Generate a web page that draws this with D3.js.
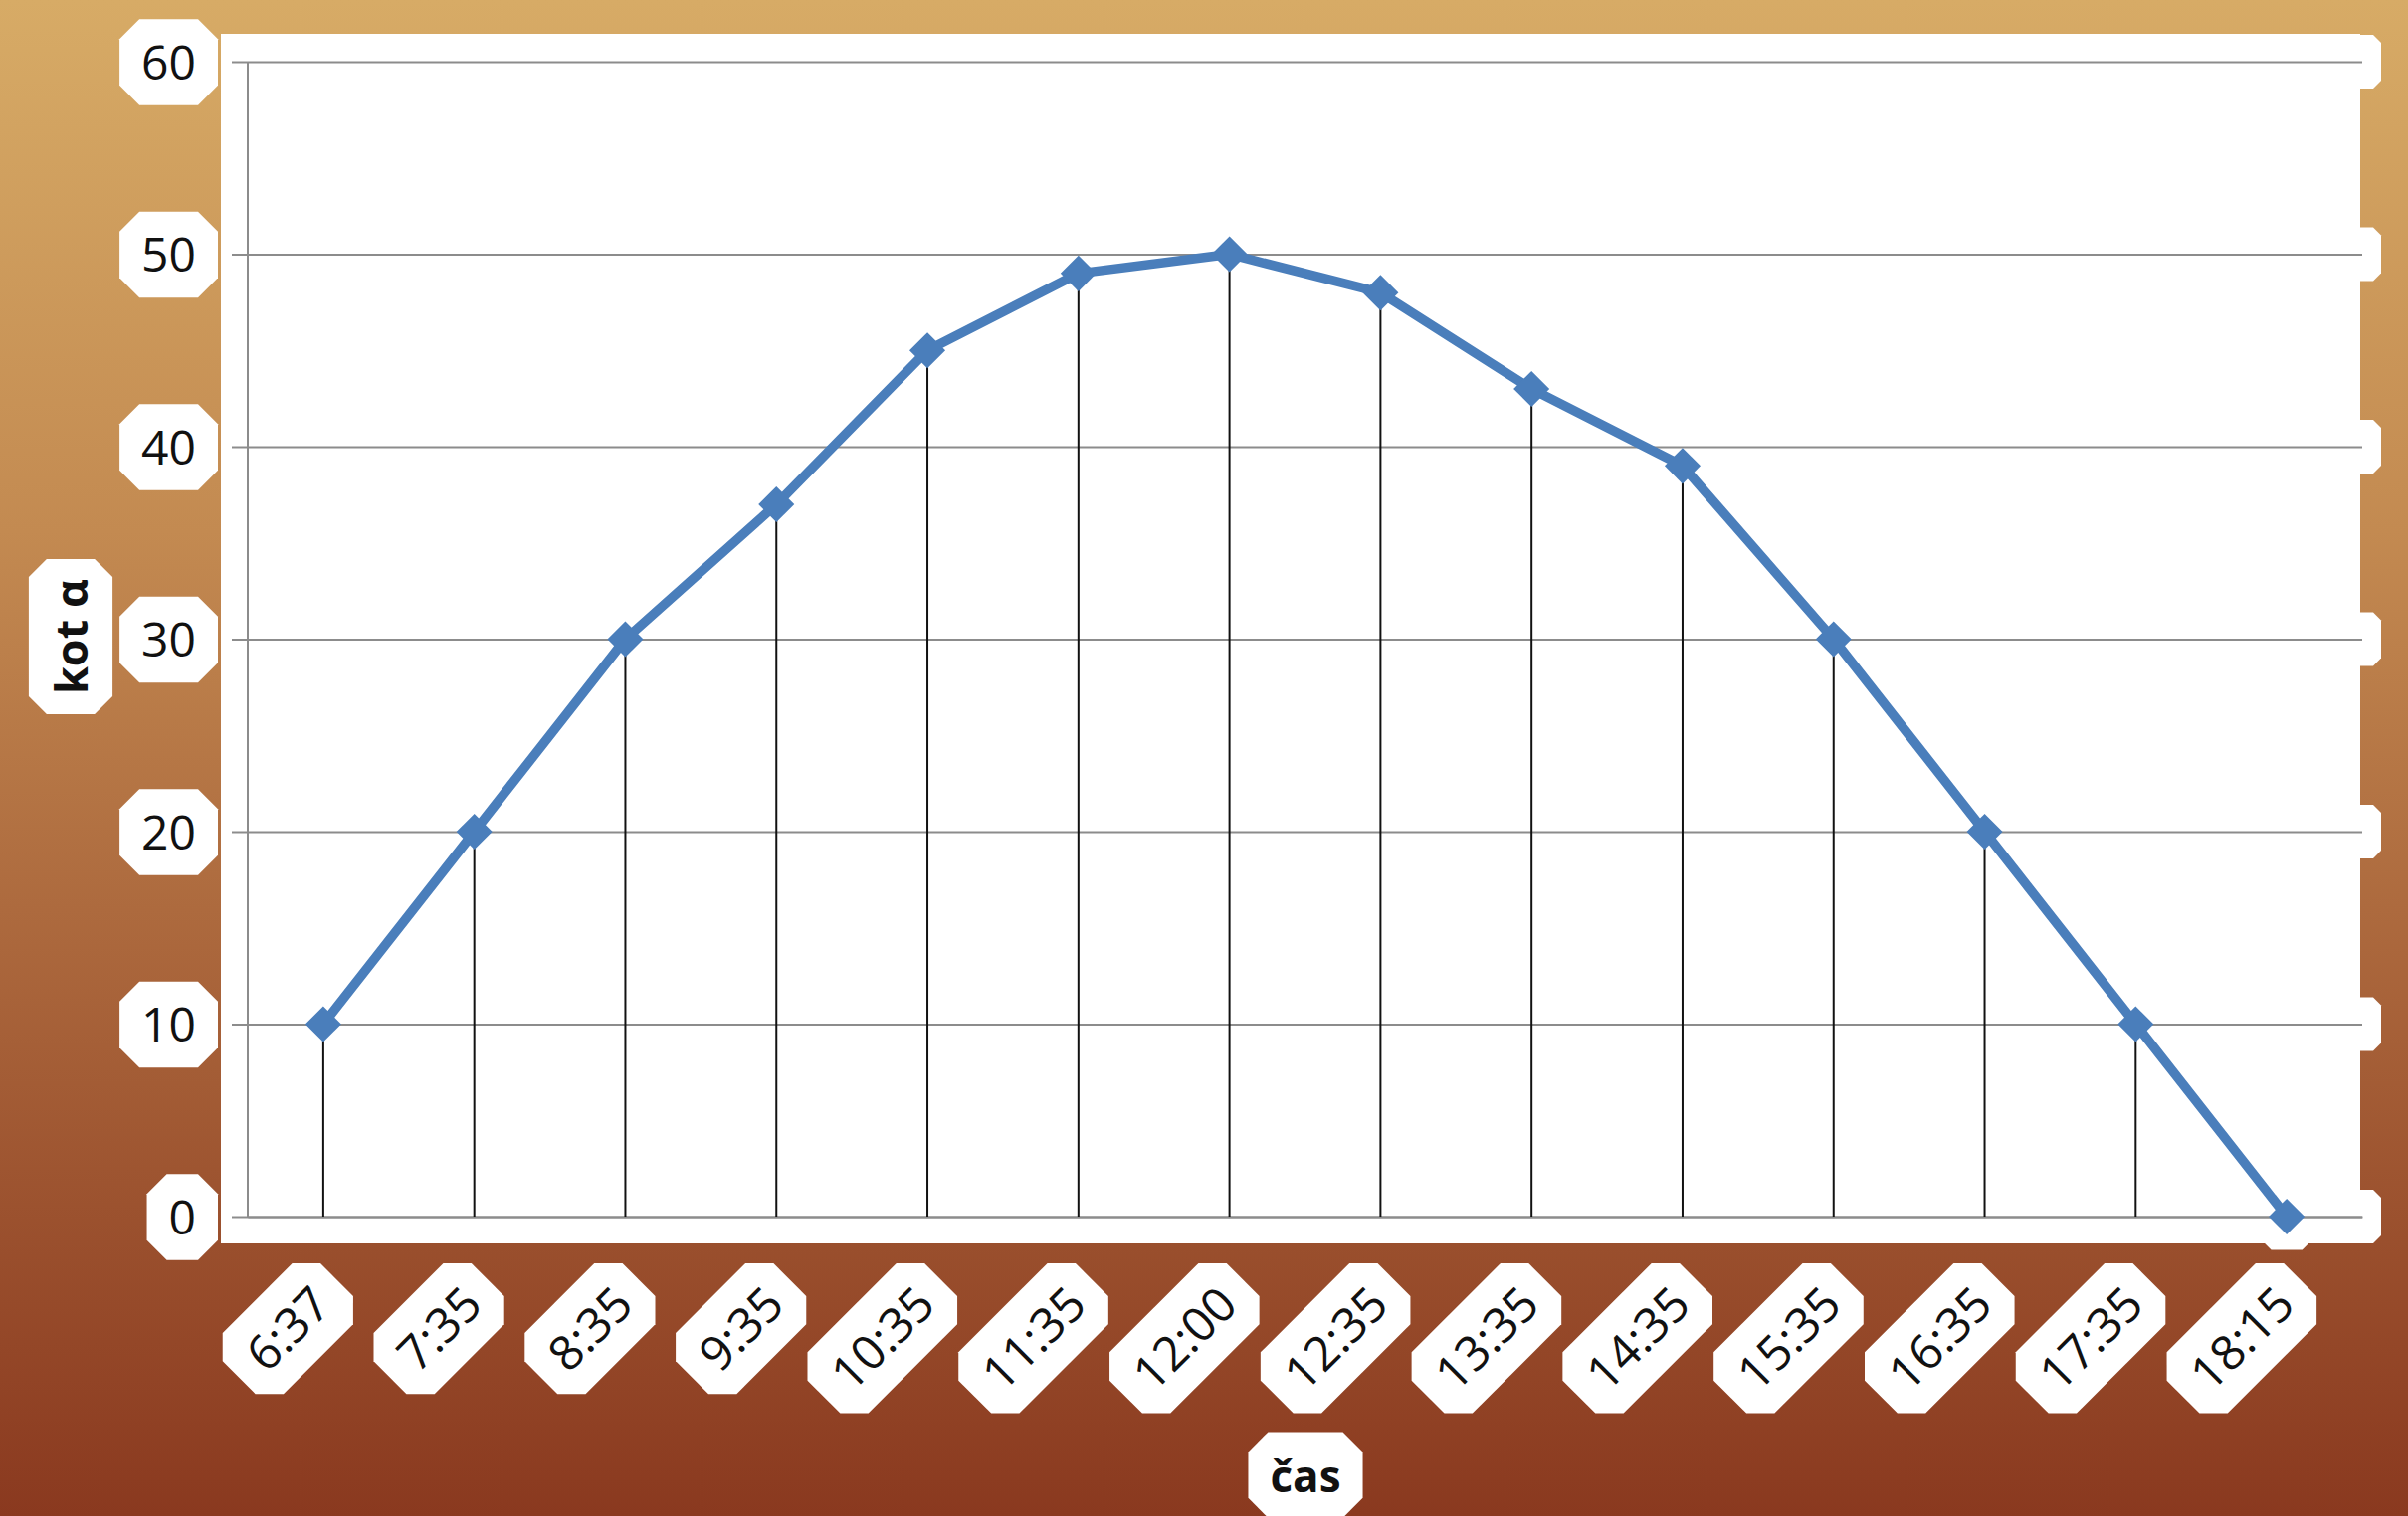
<!DOCTYPE html>
<html>
<head>
<meta charset="utf-8">
<script src="https://cdn.jsdelivr.net/npm/d3@7"></script>
<style>
  html, body { margin: 0; padding: 0; background: #8a391f; }
  svg { display: block; }
  text { font-family: "Open Sans", "Noto Sans", sans-serif; fill: #111; }
</style>
</head>
<body>
<svg id="chart" width="2420" height="1524"></svg>
<script>
// Sun elevation angle over the day
const times  = ["6:37", "7:35", "8:35", "9:35", "10:35", "11:35", "12:00",
                "12:35", "13:35", "14:35", "15:35", "16:35", "17:35", "18:15"];
const angles = [10, 20, 30, 37, 45, 49, 50, 48, 43, 39, 30, 20, 10, 0];
const yTicks = [0, 10, 20, 30, 40, 50, 60];
const xTitle = "čas";
const yTitle = "kot α";

const W = 2420, H = 1524;
const plot = { left: 249, right: 2374, top: 62, bottom: 1223 };
const LINE = "#4a7ebb";

const svg = d3.select("#chart");
const defs = svg.append("defs");

// background gradient
const grad = defs.append("linearGradient")
  .attr("id", "bg").attr("x1", 0).attr("y1", 0).attr("x2", 0).attr("y2", 1);
[[0, "#d7ab66"], [0.35, "#c38a51"], [0.6, "#ad6a3e"], [1, "#8a391f"]]
  .forEach(([o, c]) => grad.append("stop").attr("offset", o).attr("stop-color", c));

svg.append("rect").attr("width", W).attr("height", H).attr("fill", "url(#bg)");

// octagon outline for the white glow patches
function octagon(x0, y0, x1, y1, c) {
  return [[x0 + c, y0], [x1 - c, y0], [x1, y0 + c], [x1, y1 - c],
          [x1 - c, y1], [x0 + c, y1], [x0, y1 - c], [x0, y0 + c]]
    .map(p => p.join(",")).join(" ");
}

// put a white octagonal glow behind a text element (in its own coordinates)
function glowBehind(textNode, fs, dyEm, capEm, padX, padY, cut) {
  const b = textNode.getBBox();
  const base = +(textNode.getAttribute("y") || 0) + dyEm * fs;
  const top = base - capEm * fs;
  d3.select(textNode.parentNode).insert("polygon", () => textNode)
    .attr("points", octagon(b.x - padX, top - padY, b.x + b.width + padX, base + padY, cut))
    .attr("fill", "#ffffff");
}

// plot area panel
svg.append("rect")
  .attr("x", 222).attr("y", 34)
  .attr("width", 2372 - 222).attr("height", 1250 - 34)
  .attr("fill", "#ffffff");

const x = d3.scaleBand().domain(times).range([plot.left, plot.right]);
const xc = d => x(d) + x.bandwidth() / 2;
const y = d3.scaleLinear().domain([0, 60]).range([plot.bottom, plot.top]);
const pts = times.map((t, i) => [xc(t), y(angles[i])]);
const diamond = d3.symbol().type(d3.symbolSquare).size(650);

// white glow around gridline ends, axis line and markers
const glow = svg.append("g").attr("fill", "#ffffff");
glow.selectAll("polygon")
  .data(yTicks)
  .join("polygon")
  .attr("points", d => octagon(plot.right - 30, y(d) - 27, plot.right + 19, y(d) + 27, 8));
glow.append("rect")
  .attr("x", plot.left).attr("y", plot.bottom - 27)
  .attr("width", plot.right - plot.left).attr("height", 54);
glow.selectAll("path")
  .data(pts)
  .join("path")
  .attr("transform", d => `translate(${d[0]},${d[1]}) rotate(45)`)
  .attr("d", diamond)
  .attr("stroke", "#ffffff").attr("stroke-width", 44).attr("stroke-linejoin", "bevel");

// horizontal gridlines
const grid = svg.append("g")
  .attr("transform", `translate(${plot.left},0)`)
  .call(d3.axisLeft(y).tickValues(yTicks)
    .tickSize(-(plot.right - plot.left)).tickFormat(""));
grid.select(".domain").remove();
grid.selectAll(".tick line").attr("stroke", "#8c8c8c").attr("stroke-width", 2);

// y axis with outward ticks and labels
const yAxis = svg.append("g")
  .attr("transform", `translate(${plot.left},0)`)
  .call(d3.axisLeft(y).tickValues(yTicks).tickSize(16).tickPadding(36));
yAxis.select(".domain").attr("stroke", "#8c8c8c").attr("stroke-width", 2)
  .attr("d", `M0,${plot.top}V${plot.bottom}`);
yAxis.selectAll(".tick line").attr("stroke", "#8c8c8c").attr("stroke-width", 2);
yAxis.selectAll(".tick text")
  .attr("font-size", 48).attr("font-family", "Open Sans").attr("fill", "#111")
  .attr("dy", "0.36em")
  .each(function () { glowBehind(this, 48, 0.36, 0.72, 22, 26, 20); });

// x axis line
const xAxis = svg.append("g")
  .attr("transform", `translate(0,${plot.bottom})`)
  .call(d3.axisBottom(x).tickSize(0).tickFormat(""));
xAxis.select(".domain").attr("stroke", "#8c8c8c").attr("stroke-width", 2);

// drop lines from each point to the axis
svg.append("g").selectAll("line")
  .data(times.map((t, i) => ({ t, v: angles[i] })))
  .join("line")
  .attr("x1", d => xc(d.t)).attr("x2", d => xc(d.t))
  .attr("y1", d => y(d.v)).attr("y2", y(0))
  .attr("stroke", "#111").attr("stroke-width", 2);

// series line
svg.append("path")
  .attr("d", d3.line()(pts))
  .attr("fill", "none").attr("stroke", LINE)
  .attr("stroke-width", 9.5).attr("stroke-linejoin", "round");

// diamond markers
svg.append("g").selectAll("path")
  .data(pts)
  .join("path")
  .attr("transform", d => `translate(${d[0]},${d[1]}) rotate(45)`)
  .attr("d", diamond)
  .attr("fill", LINE);

// rotated category labels
svg.append("g").selectAll("g")
  .data(times)
  .join("g")
  .attr("transform", d => `translate(${xc(d) - 2},${plot.bottom + 79}) rotate(-45)`)
  .append("text")
  .attr("text-anchor", "end")
  .attr("dy", "0.36em")
  .attr("font-size", 48)
  .text(d => d)
  .each(function () { glowBehind(this, 48, 0.36, 0.72, 22, 26, 20); });

// axis titles
const yt = svg.append("g").attr("transform", "translate(71,640) rotate(-90)")
  .append("text")
  .attr("text-anchor", "middle").attr("dy", "0.38em")
  .attr("font-size", 45).attr("font-weight", "bold")
  .text(yTitle);
glowBehind(yt.node(), 45, 0.38, 0.76, 20, 25, 18);

const xt = svg.append("g").append("text")
  .attr("x", 1312).attr("y", 1484)
  .attr("text-anchor", "middle").attr("dy", "0.36em")
  .attr("font-size", 44).attr("font-weight", "bold")
  .text(xTitle);
glowBehind(xt.node(), 44, 0.36, 0.76, 22, 26, 20);
</script>
</body>
</html>
